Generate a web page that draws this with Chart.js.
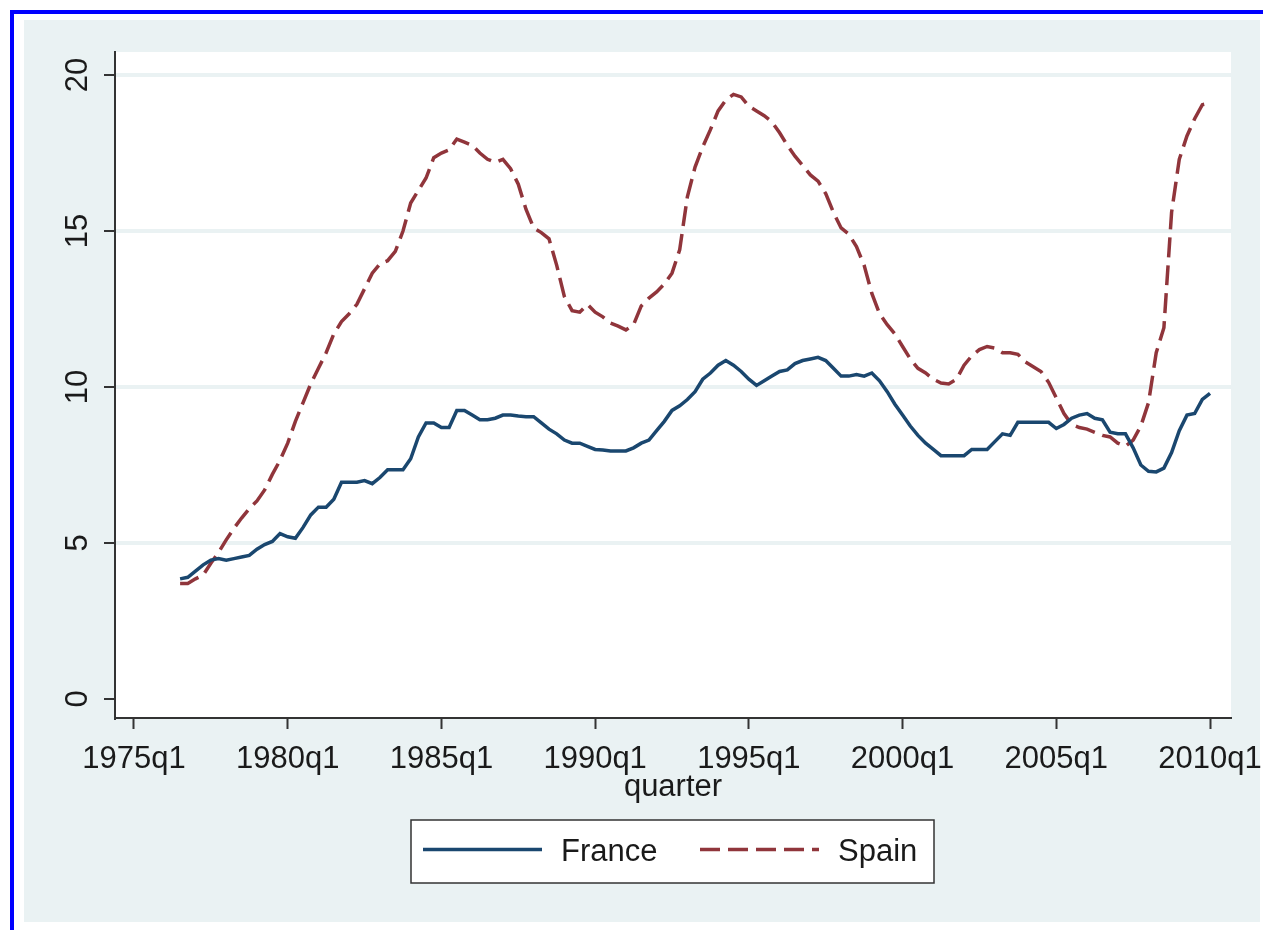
<!doctype html>
<html lang="en">
  <head>
    <meta charset="UTF-8" />
    <title>France and Spain by quarter</title>
    <script src="https://cdn.jsdelivr.net/npm/chart.js"></script>
    <style>
      body {
        margin: 0;
        background: #fff;
      }
      canvas {
        display: block;
      }
    </style>
  </head>
  <body>
    <canvas id="chart" width="1263" height="930"></canvas>

    <script>
      // Data, one value per quarter from 1976q3
      const firstQuarter = '1976q3';
      const xTickLabels = ['1975q1', '1980q1', '1985q1', '1990q1', '1995q1', '2000q1', '2005q1', '2010q1'];
      const yTicks = [0, 5, 10, 15, 20];

      const france = [
        3.85, 3.9, 4.1, 4.3, 4.45, 4.5, 4.45, 4.5, 4.55, 4.6,
        4.8, 4.95, 5.05, 5.3, 5.2, 5.15, 5.5, 5.9, 6.15, 6.15,
        6.4, 6.95, 6.95, 6.95, 7.0, 6.9, 7.1, 7.35, 7.35, 7.35,
        7.7, 8.4, 8.85, 8.85, 8.7, 8.7, 9.25, 9.25, 9.1, 8.95,
        8.95, 9.0, 9.1, 9.1, 9.07, 9.05, 9.05, 8.85, 8.65, 8.5,
        8.3, 8.2, 8.2, 8.1, 8.0, 7.98, 7.95, 7.95, 7.95, 8.05,
        8.2, 8.3, 8.6, 8.9, 9.25, 9.4, 9.6, 9.85, 10.25, 10.45,
        10.7, 10.85, 10.7, 10.5, 10.25, 10.05, 10.2, 10.35, 10.5, 10.55,
        10.75, 10.85, 10.9, 10.95, 10.85, 10.6, 10.35, 10.35, 10.4, 10.35,
        10.45, 10.2, 9.85, 9.45, 9.1, 8.75, 8.45, 8.2, 8.0, 7.8,
        7.8, 7.8, 7.8, 8.0, 8.0, 8.0, 8.25, 8.5, 8.45, 8.87,
        8.87, 8.87, 8.87, 8.87, 8.67, 8.8, 9.0, 9.1, 9.15, 9.0,
        8.95, 8.55, 8.5, 8.5, 8.05, 7.5, 7.3, 7.28, 7.4, 7.9,
        8.6, 9.1, 9.15, 9.6, 9.8
      ];

      const spain = [
        3.7, 3.7, 3.85, 3.97, 4.35, 4.7, 5.1, 5.47, 5.8, 6.1,
        6.35, 6.7, 7.2, 7.65, 8.2, 8.9, 9.5, 10.1, 10.6, 11.1,
        11.7, 12.1, 12.35, 12.65, 13.15, 13.65, 13.95, 14.05, 14.35, 15.0,
        15.9, 16.3, 16.7, 17.35, 17.5, 17.6, 17.95, 17.85, 17.75, 17.5,
        17.3, 17.2, 17.3, 17.0, 16.5, 15.7, 15.1, 14.95, 14.75, 13.9,
        12.9, 12.45, 12.4, 12.65, 12.4, 12.25, 12.05, 11.95, 11.83, 12.0,
        12.6, 12.85, 13.05, 13.3, 13.65, 14.4, 16.1, 17.05, 17.7, 18.25,
        18.85, 19.2, 19.38, 19.3, 19.0, 18.85, 18.7, 18.5, 18.15, 17.75,
        17.4, 17.1, 16.8, 16.6, 16.2, 15.6, 15.1, 14.9, 14.5, 13.9,
        13.0, 12.35, 12.0, 11.7, 11.3, 10.9, 10.6, 10.45, 10.25, 10.13,
        10.1, 10.25, 10.7, 11.0, 11.2, 11.3, 11.25, 11.1, 11.1, 11.05,
        10.8, 10.65, 10.5, 10.15, 9.65, 9.15, 8.8, 8.7, 8.65, 8.55,
        8.45, 8.4, 8.2, 8.1, 8.3, 8.75, 9.5, 11.1, 11.9, 15.6,
        17.3, 18.05, 18.6, 19.05, 19.1
      ];

      // quarter helpers: '1976q3' <-> running quarter number
      function toQuarter(s) {
        const [y, q] = s.split('q').map(Number);
        return y * 4 + (q - 1);
      }
      function quarterLabel(n) {
        return Math.floor(n / 4) + 'q' + ((n % 4) + 1);
      }

      const q0 = toQuarter(firstQuarter);
      const xTickValues = xTickLabels.map(toQuarter);
      const toPoints = arr => arr.map((v, i) => ({ x: q0 + i, y: v }));

      const bgGrey = '#EAF2F3';
      const axisColor = '#333';
      const textColor = '#1a1a1a';
      const font = { family: "'Liberation Sans', Arial, sans-serif", size: 31 };

      // frame, grey background and white plot region
      const backgroundPlugin = {
        id: 'stataBackground',
        beforeDraw(chart) {
          const { ctx, chartArea } = chart;
          ctx.save();
          ctx.fillStyle = '#fff';
          ctx.fillRect(0, 0, chart.width, chart.height);
          ctx.fillStyle = '#0000ff';
          ctx.fillRect(10, 10, chart.width - 10, 4);
          ctx.fillRect(10, 10, 4, chart.height - 10);
          ctx.fillStyle = bgGrey;
          ctx.fillRect(24, 20, 1236, 902);
          ctx.fillStyle = '#fff';
          ctx.fillRect(chartArea.left, chartArea.top, chartArea.right - chartArea.left, chartArea.bottom - chartArea.top);
          ctx.restore();
        },
      };

      // boxed legend under the axis title
      const legendPlugin = {
        id: 'boxLegend',
        afterDraw(chart) {
          const { ctx } = chart;
          const box = { x: 411, y: 820, w: 523, h: 63 };
          ctx.save();
          ctx.fillStyle = '#fff';
          ctx.fillRect(box.x, box.y, box.w, box.h);
          ctx.strokeStyle = axisColor;
          ctx.lineWidth = 1.5;
          ctx.strokeRect(box.x, box.y, box.w, box.h);

          const midY = box.y + box.h / 2;
          const itemStarts = [box.x + 12, box.x + 289];
          ctx.font = `${font.size}px ${font.family}`;
          ctx.textBaseline = 'middle';
          chart.data.datasets.forEach((ds, i) => {
            const x0 = itemStarts[i];
            ctx.beginPath();
            ctx.strokeStyle = ds.borderColor;
            ctx.lineWidth = ds.borderWidth;
            ctx.setLineDash(ds.borderDash || []);
            ctx.moveTo(x0, midY - 2);
            ctx.lineTo(x0 + 119, midY - 2);
            ctx.stroke();
            ctx.setLineDash([]);
            ctx.fillStyle = textColor;
            ctx.fillText(ds.label, x0 + 138, midY + 1);
          });
          ctx.restore();
        },
      };

      new Chart(document.getElementById('chart'), {
        type: 'line',
        data: {
          datasets: [
            {
              label: 'France',
              data: toPoints(france),
              borderColor: '#1A476F',
              borderWidth: 3.5,
              pointRadius: 0,
              tension: 0,
            },
            {
              label: 'Spain',
              data: toPoints(spain),
              borderColor: '#90353B',
              borderWidth: 3.5,
              borderDash: [20, 8],
              pointRadius: 0,
              tension: 0,
            },
          ],
        },
        options: {
          responsive: false,
          animation: false,
          devicePixelRatio: 1,
          layout: { padding: { left: 24, top: 52, right: 32, bottom: 120 } },
          plugins: {
            legend: { display: false },
            tooltip: { enabled: false },
          },
          scales: {
            x: {
              type: 'linear',
              min: xTickValues[0] - 2.47,
              max: xTickValues[xTickValues.length - 1] + 2.73,
              afterBuildTicks: s => {
                s.ticks = xTickValues.map(v => ({ value: v }));
              },
              afterFit: s => {
                s.height = 92;
                s.paddingLeft = 0;
                s.paddingRight = 0;
              },
              border: { color: axisColor, width: 2 },
              grid: { drawOnChartArea: false, tickColor: axisColor, tickLength: 11, tickWidth: 2 },
              ticks: {
                autoSkip: false,
                maxRotation: 0,
                padding: 12,
                font,
                color: textColor,
                callback: v => quarterLabel(v),
              },
              title: {
                display: true,
                text: 'quarter',
                font,
                color: textColor,
                padding: { top: 0, bottom: 4 },
              },
            },
            y: {
              min: -0.61,
              max: 20.74,
              afterBuildTicks: s => {
                s.ticks = yTicks.map(v => ({ value: v }));
              },
              afterFit: s => {
                s.width = 91;
                s.paddingTop = 0;
                s.paddingBottom = 0;
              },
              border: { color: axisColor, width: 2 },
              grid: {
                color: c => (c.tick && c.tick.value === 0 ? 'rgba(0,0,0,0)' : bgGrey),
                lineWidth: 4,
                tickColor: axisColor,
                tickLength: 11,
                tickWidth: 2,
              },
              ticks: {
                minRotation: 90,
                maxRotation: 90,
                crossAlign: 'center',
                padding: 8,
                font,
                color: textColor,
              },
            },
          },
        },
        plugins: [backgroundPlugin, legendPlugin],
      });
    </script>
  </body>
</html>
